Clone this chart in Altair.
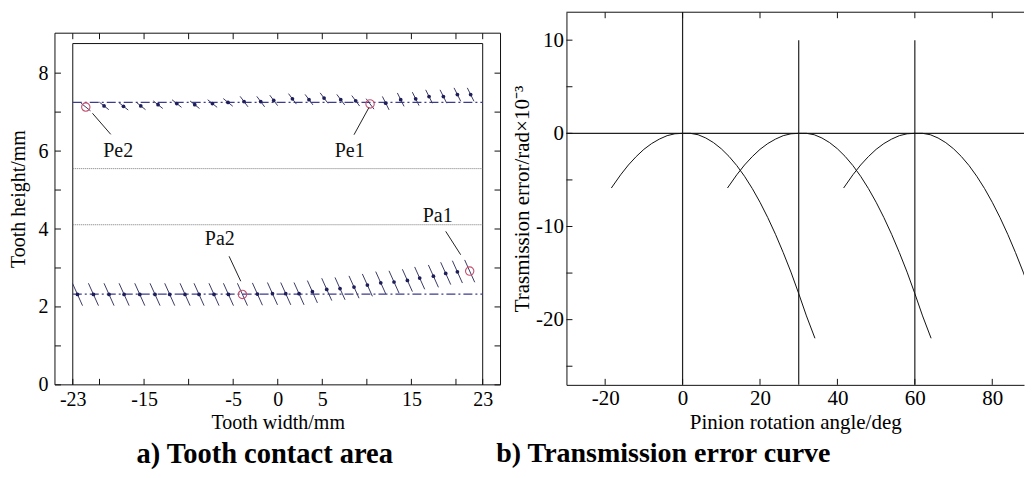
import altair as alt
import pandas as pd

FONT = "Liberation Serif"

# ---------------- left panel: tooth contact area ----------------
up_x = [-19.49, -17.31, -15.37, -13.43, -11.33, -9.31, -7.33, -5.58, -3.78, -1.91, -0.45,
        1.65, 3.51, 5.20, 7.07, 8.75, 12.12, 13.80, 15.48, 16.98, 18.59, 20.16, 21.65]
up_y = [7.16, 7.15, 7.16, 7.19, 7.22, 7.19, 7.22, 7.25, 7.27, 7.27, 7.30,
        7.34, 7.32, 7.36, 7.32, 7.29, 7.23, 7.32, 7.34, 7.40, 7.40, 7.45, 7.45]
lo_x = [-22.47, -20.68, -18.93, -17.24, -15.48, -13.77, -12.12, -10.40, -8.83, -7.15, -5.53,
        -2.28, -0.59, 0.90, 2.39, 3.89, 5.50, 6.99, 8.56, 10.06, 11.56, 13.05, 14.55, 15.93,
        17.47, 18.85, 20.16]
lo_y = [2.32, 2.32, 2.32, 2.32, 2.32, 2.32, 2.32, 2.32, 2.32, 2.32, 2.32,
        2.33, 2.34, 2.34, 2.34, 2.39, 2.45, 2.47, 2.51, 2.56, 2.62, 2.64, 2.68, 2.74,
        2.79, 2.86, 2.90]
mk_name = ["Pe2", "Pe1", "Pa2", "Pa1"]
mk_row = ["up", "up", "lo", "lo"]
mk_x = [-21.54, 10.36, -3.96, 21.54]
mk_y = [7.13, 7.21, 2.32, 2.92]
lab_x = [-17.9, 8.08, -6.5, 17.95]
lab_y = [5.99, 5.99, 3.74, 4.33]
lead_x1 = [-20.79, 10.24, -5.46, 18.85]
lead_y1 = [6.97, 7.12, 3.30, 3.94]
lead_x2 = [-18.74, 8.56, -4.15, 20.53]
lead_y2 = [6.43, 6.42, 2.66, 3.34]
path_y = [7.25, 2.33]
ref_y = [5.55, 4.11]
tooth_x = [-23, 23]
tooth_top = 8.76
left_xticks = [-23, -20, -15, -10, -5, 0, 5, 10, 15, 20, 23]
left_xlabels = [-23, -15, -5, 0, 5, 15, 23]
left_yticks = [0, 1, 2, 3, 4, 5, 6, 7, 8]
left_ylabels = [0, 2, 4, 6, 8]

# ---------------- right panel: transmission error ----------------
te_y = [-5.87, -4.45, -3.4, -2.5, -1.72, -1.1, -0.62, -0.25, -0.05, 0, 0, 0, -0.15, -0.5,
        -1.0, -1.66, -2.48, -3.46, -4.61, -5.92, -7.4, -9.04, -10.84, -12.8, -14.9, -17.2,
        -19.6, -22.0]
c1_x = [-18.4, -16, -14, -12, -10, -8, -6, -4, -2, 0, 1, 2, 4, 6, 8, 10, 12, 14, 16, 18,
        20, 22, 24, 26, 28, 30, 32, 34.2]
c2_x = [11.6, 14, 16, 18, 20, 22, 24, 26, 28, 30, 31, 32, 34, 36, 38, 40, 42, 44, 46, 48,
        50, 52, 54, 56, 58, 60, 62, 64.2]
c3_x = [41.6, 44, 46, 48, 50, 52, 54, 56, 58, 60, 61, 62, 64, 66, 68, 70, 72, 74, 76, 78,
        80, 82, 84, 86, 88, 90, 92, 94.2]
vl_x = [0, 30, 60]
vl_top = [13, 10, 10]
right_xlabels = [-20, 0, 20, 40, 60, 80]
right_xticks = [-20, 0, 20, 40, 60, 80]
right_yticks = [10, 5, 0, -5, -10, -15, -20, -25]
right_ylabels = [-20, -10, 0, 10]
captions = ["a) Tooth contact area", "b) Transmission error curve"]

LW, LH = 446, 373
FT = 21          # left frame starts 21px below the common top
RW, RH = 458, 373
RX_MAX = 88.2
TK = 6
NAVY = "#1e1e5a"
SEG = "#3a3a66"
PATH = "#3c3c8e"
PINK = "#c4506e"
LABEL_EXPR = "'' + datum.value"

# ---------- left chart ----------
sxL = alt.Scale(domain=[-25, 25], nice=False, zero=False)
syL = alt.Scale(domain=[0, 9.564], nice=False, zero=False)
axLx = alt.Axis(values=left_xlabels, title="Tooth width/mm", labelFlush=False,
                labelExpr=LABEL_EXPR, labelFontSize=20, titleFontSize=20,
                labelPadding=5, titlePadding=3, domain=False, ticks=False, grid=False)
axLy = alt.Axis(values=left_ylabels, title="Tooth height/mm", labelExpr=LABEL_EXPR,
                labelFontSize=20, titleFontSize=20, labelPadding=7,
                titlePadding=9, domain=False, ticks=False, grid=False)


def LX(f="x"):
    return alt.X(f, type="quantitative", scale=sxL, axis=axLx)


def LY(f="y"):
    return alt.Y(f, type="quantitative", scale=syL, axis=axLy)


one = pd.DataFrame({"k": [0]})
df_tooth_v = pd.DataFrame({"x": tooth_x, "y": [0, 0], "y2": [tooth_top, tooth_top]})
df_tooth_h = pd.DataFrame({"x": [tooth_x[0]], "x2": [tooth_x[1]], "y": [tooth_top]})
df_ref = pd.DataFrame({"x": [tooth_x[0]] * 2, "x2": [tooth_x[1]] * 2, "y": ref_y})
df_path = pd.DataFrame({"x": [tooth_x[0]] * 2, "x2": [tooth_x[1]] * 2, "y": path_y})
df_up = pd.DataFrame({"x": up_x, "y": up_y})
df_lo = pd.DataFrame({"x": lo_x, "y": lo_y})
df_mk = pd.DataFrame({"x": mk_x, "y": mk_y, "row": mk_row, "name": mk_name,
                      "lx": lab_x, "ly": lab_y,
                      "x1": lead_x1, "y1": lead_y1, "x2": lead_x2, "y2": lead_y2})
df_seg_up = pd.concat([df_up, df_mk[df_mk.row == "up"][["x", "y"]]], ignore_index=True)
df_seg_lo = pd.concat([df_lo, df_mk[df_mk.row == "lo"][["x", "y"]]], ignore_index=True)
df_lxt = pd.DataFrame({"x": left_xticks})
df_lyt = pd.DataFrame({"y": left_yticks})

frame_col = "#111"
fr_top = alt.Chart(one).mark_rule(color=frame_col, strokeWidth=1).encode(
    x=alt.value(0), x2=alt.value(LW), y=alt.value(FT))
fr_bot = alt.Chart(one).mark_rule(color=frame_col, strokeWidth=1).encode(
    x=alt.value(0), x2=alt.value(LW), y=alt.value(LH))
fr_l = alt.Chart(one).mark_rule(color=frame_col, strokeWidth=1).encode(
    x=alt.value(0), y=alt.value(FT), y2=alt.value(LH))
fr_r = alt.Chart(one).mark_rule(color=frame_col, strokeWidth=1).encode(
    x=alt.value(LW), y=alt.value(FT), y2=alt.value(LH))

tooth_v = alt.Chart(df_tooth_v).mark_rule(color="#111", strokeWidth=1).encode(
    x=LX(), y=LY(), y2="y2")
tooth_h = alt.Chart(df_tooth_h).mark_rule(color="#111", strokeWidth=1).encode(
    x=LX(), x2="x2", y=LY())
ref_lines = alt.Chart(df_ref).mark_rule(color="#777", strokeWidth=1, strokeDash=[1, 1]).encode(
    x=LX(), x2="x2", y=LY())
path_lines = alt.Chart(df_path).mark_rule(color=PATH, strokeWidth=1.3,
                                          strokeDash=[9, 3, 2, 3]).encode(
    x=LX(), x2="x2", y=LY())

seg_up_a = alt.Chart(df_seg_up).transform_filter("datum.x < -5").mark_point(
    shape="M-1,-0.8L1,0.8", size=90, filled=False, color=SEG, strokeWidth=1, opacity=1
).encode(x=LX(), y=LY())
seg_up_b = alt.Chart(df_seg_up).transform_filter("datum.x >= -5 && datum.x < 11").mark_point(
    shape="M-0.75,-1L0.75,1", size=110, filled=False, color=SEG, strokeWidth=1, opacity=1
).encode(x=LX(), y=LY())
seg_up_c = alt.Chart(df_seg_up).transform_filter("datum.x >= 11").mark_point(
    shape="M-0.5,-1L0.5,1", size=180, filled=False, color=SEG, strokeWidth=1, opacity=1
).encode(x=LX(), y=LY())
seg_lo = alt.Chart(df_seg_lo).mark_point(
    shape="M-0.45,-1L0.45,1", size=500, filled=False, color=SEG, strokeWidth=1, opacity=1
).encode(x=LX(), y=LY())

dots_up = alt.Chart(df_up).mark_point(shape="circle", size=14, filled=True, color=NAVY,
                                      opacity=1).encode(x=LX(), y=LY())
dots_lo = alt.Chart(df_lo).mark_point(shape="circle", size=14, filled=True, color=NAVY,
                                      opacity=1).encode(x=LX(), y=LY())
circles = alt.Chart(df_mk).mark_point(shape="circle", size=70, filled=False, color=PINK,
                                      strokeWidth=1.1, opacity=1).encode(x=LX(), y=LY())
leaders = alt.Chart(df_mk).mark_rule(color="#222", strokeWidth=1).encode(
    x=LX("x1"), y=LY("y1"), x2="x2", y2="y2")
labels = alt.Chart(df_mk).mark_text(font=FONT, fontSize=20, color="#111").encode(
    x=LX("lx"), y=LY("ly"), text="name:N")

tk_top = alt.Chart(df_lxt).mark_rule(color="#111").encode(
    x=LX(), y=alt.value(FT), y2=alt.value(FT + TK))
tk_bot = alt.Chart(df_lxt).mark_rule(color="#111").encode(
    x=LX(), y=alt.value(LH), y2=alt.value(LH - TK))
tk_left = alt.Chart(df_lyt).mark_rule(color="#111").encode(
    y=LY(), x=alt.value(0), x2=alt.value(TK))
tk_right = alt.Chart(df_lyt).mark_rule(color="#111").encode(
    y=LY(), x=alt.value(LW), x2=alt.value(LW - TK))

left = alt.layer(
    fr_top, fr_bot, fr_l, fr_r,
    tooth_v, tooth_h, ref_lines, path_lines, seg_up_a, seg_up_b, seg_up_c, seg_lo,
    dots_up, dots_lo, circles, leaders, labels, tk_top, tk_bot, tk_left, tk_right
).properties(
    width=LW, height=LH,
    view=alt.ViewBackground(stroke="transparent"),
)

# ---------- right chart ----------
sxR = alt.Scale(domain=[-30, RX_MAX], nice=False, zero=False)
syR = alt.Scale(domain=[-27, 13], nice=False, zero=False)
axRx = alt.Axis(values=right_xlabels, title="Pinion rotation angle/deg", labelFlush=False,
                labelExpr=LABEL_EXPR, labelFontSize=21, titleFontSize=21,
                labelPadding=3, titlePadding=3, domain=True, domainColor="#111",
                domainWidth=1, ticks=False, grid=False)
axRy = alt.Axis(values=right_ylabels, title="Trasmission error/rad\u00d710\u207b\u00b3",
                labelExpr=LABEL_EXPR, labelFontSize=21, titleFontSize=21,
                labelPadding=3, titlePadding=3, domain=True,
                domainColor="#111", domainWidth=1, ticks=False, grid=False)


def RX(f="x"):
    return alt.X(f, type="quantitative", scale=sxR, axis=axRx)


def RY(f="y"):
    return alt.Y(f, type="quantitative", scale=syR, axis=axRy)


df_curves = pd.concat([
    pd.DataFrame({"x": c1_x, "y": te_y, "c": "1"}),
    pd.DataFrame({"x": c2_x, "y": te_y, "c": "2"}),
    pd.DataFrame({"x": c3_x, "y": te_y, "c": "3"}),
], ignore_index=True)
df_vl = pd.DataFrame({"x": vl_x, "y": [-27, -27, -27], "y2": vl_top})
df_hl = pd.DataFrame({"x": [-30], "x2": [RX_MAX], "y": [0]})
df_rxt = pd.DataFrame({"x": right_xticks})
df_ryt = pd.DataFrame({"y": right_yticks})

vlines = alt.Chart(df_vl).mark_rule(color="#222", strokeWidth=1.2).encode(
    x=RX(), y=RY(), y2="y2")
hline = alt.Chart(df_hl).mark_rule(color="#222", strokeWidth=1.2).encode(
    x=RX(), x2="x2", y=RY())
curves = alt.Chart(df_curves).mark_line(color="#111", strokeWidth=1, clip=True).encode(
    x=RX(), y=RY(), detail="c:N")
top_border = alt.Chart(one).mark_rule(color="#111", strokeWidth=1).encode(
    x=alt.value(0), x2=alt.value(RW), y=alt.value(0))
rtk_top = alt.Chart(df_rxt).mark_rule(color="#111").encode(
    x=RX(), y=alt.value(0), y2=alt.value(TK))
rtk_bot = alt.Chart(df_rxt).mark_rule(color="#111").encode(
    x=RX(), y=alt.value(RH), y2=alt.value(RH - TK))
rtk_left = alt.Chart(df_ryt).mark_rule(color="#111").encode(
    y=RY(), x=alt.value(0), x2=alt.value(TK))

right = alt.layer(
    vlines, hline, curves, top_border, rtk_top, rtk_bot, rtk_left
).properties(
    width=RW, height=RH,
    view=alt.ViewBackground(stroke="transparent"),
)

# ---------- captions row ----------
cap_l = alt.Chart(pd.DataFrame({"t": [captions[0]]})).mark_text(
    font=FONT, fontSize=28.5, fontWeight="bold", color="#000", baseline="middle"
).encode(text="t:N", x=alt.value(210), y=alt.value(19))
cap_r = alt.Chart(pd.DataFrame({"t": [captions[1]]})).mark_text(
    font=FONT, fontSize=28, fontWeight="bold", color="#000", baseline="middle"
).encode(text="t:N", x=alt.value(609), y=alt.value(19))
cap_row = alt.layer(cap_l, cap_r).properties(
    width=1, height=1, view=alt.ViewBackground(stroke="transparent"))

chart = alt.vconcat(
    alt.hconcat(left, right, spacing=9),
    cap_row,
    spacing=0,
).properties(
    padding={"left": 0, "top": 2, "right": 0, "bottom": 0},
    background="white",
).configure_axis(
    labelFont=FONT, titleFont=FONT,
    labelColor="#000", titleColor="#000", titleFontWeight="normal",
)

chart.save("out.html", embed_options={"renderer": "svg", "actions": False})
